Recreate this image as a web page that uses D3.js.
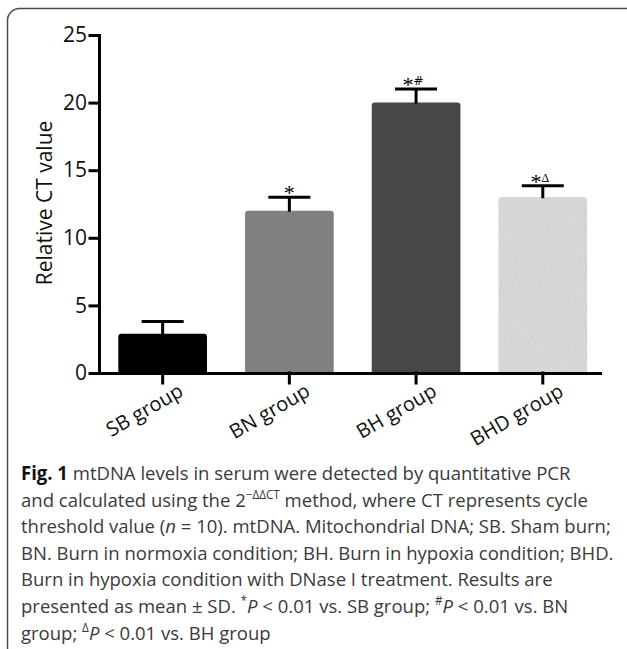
<!DOCTYPE html>
<html>
<head>
<meta charset="utf-8">
<script src="https://cdn.jsdelivr.net/npm/d3@7"></script>
<style>
  body { margin: 0; background: #fff; }
  svg { display: block; }
  text { font-family: "Open Sans", sans-serif; }
</style>
</head>
<body>
<svg width="627" height="649"></svg>
<script>
// chart values
var groups = ["SB group", "BN group", "BH group", "BHD group"];
var means = [2.9, 12.0, 20.0, 13.0];
var sds = [0.9, 1.0, 1.0, 0.85];
var starMarks = ["", "*", "*", "*"];
var extraMarks = ["", "", "#", "\u0394"];
var yTicks = [0, 5, 10, 15, 20, 25];

var barColors = ["#000000", "#808080", "#474747", "#d6d6d6"];

var svg = d3.select("svg");

var defs = svg.append("defs");
var f = defs.append("filter").attr("id", "grain")
    .attr("x", 0).attr("y", 0).attr("width", 1).attr("height", 1);
f.append("feTurbulence").attr("type", "fractalNoise").attr("baseFrequency", 0.9)
    .attr("numOctaves", 2).attr("seed", 3).attr("result", "n");
f.append("feColorMatrix").attr("in", "n").attr("type", "matrix")
    .attr("values", "0.33 0.33 0.33 0 0  0.33 0.33 0.33 0 0  0.33 0.33 0.33 0 0  0 0 0 0 1")
    .attr("result", "g");
f.append("feComposite").attr("in", "SourceGraphic").attr("in2", "g").attr("operator", "arithmetic")
    .attr("k1", 0).attr("k2", 1).attr("k3", 0.3).attr("k4", -0.15).attr("result", "m");
f.append("feComposite").attr("in", "m").attr("in2", "SourceGraphic").attr("operator", "in");

// frame (only top and left edges visible)
svg.append("rect")
    .attr("x", 7.5).attr("y", 8.5)
    .attr("width", 800).attr("height", 800)
    .attr("rx", 12)
    .attr("fill", "none")
    .attr("stroke", "#4a4a4a")
    .attr("stroke-width", 1.5);

var y = d3.scaleLinear().domain([0, 25]).range([373, 35]);
var x = d3.scaleBand().domain(groups).range([99, 600])
    .paddingInner(0.3).paddingOuter(0.127).align(0.6);

var g = svg.append("g");

// bars
g.selectAll(".bar")
    .data(groups)
    .enter().append("path")
    .attr("class", "bar")
    .attr("fill", function(d, i) { return barColors[i]; })
    .attr("filter", function(d, i) { return i == 3 ? "url(#grain)" : null; })
    .attr("d", function(d, i) {
        var x0 = x(d), x1 = x(d) + x.bandwidth(), yt = y(means[i]), yb = y(0), r = 3;
        return "M" + x0 + "," + yb + "V" + (yt + r) + "Q" + x0 + "," + yt + " " + (x0 + r) + "," + yt +
            "H" + (x1 - r) + "Q" + x1 + "," + yt + " " + x1 + "," + (yt + r) + "V" + yb + "Z";
    });

// error bars
var cap = 21;
groups.forEach(function(d, i) {
    var cx = x(d) + x.bandwidth() / 2;
    g.append("line")
        .attr("x1", cx).attr("x2", cx)
        .attr("y1", y(means[i]) + 1).attr("y2", y(means[i] + sds[i]))
        .attr("stroke", "#000").attr("stroke-width", 3);
    g.append("line")
        .attr("x1", cx - cap).attr("x2", cx + cap)
        .attr("y1", y(means[i] + sds[i])).attr("y2", y(means[i] + sds[i]))
        .attr("stroke", "#000").attr("stroke-width", 3);

    if (starMarks[i]) {
        var t = g.append("text")
            .attr("x", cx + (extraMarks[i] ? -3 : 0))
            .attr("y", y(means[i] + sds[i]) + 3)
            .attr("text-anchor", "middle")
            .style("font-family", "'Liberation Serif', serif");
        t.append("tspan").attr("font-size", 22).text(starMarks[i]);
        if (extraMarks[i]) {
            t.append("tspan").attr("font-size", 12).attr("dy", -7)
                .style("font-family", extraMarks[i] == "#" ? "'DejaVu Sans', sans-serif" : "'Liberation Serif', serif")
                .text(extraMarks[i]);
        }
    }
});

// axes
var yAxis = d3.axisLeft(y).tickValues(yTicks).tickSize(9).tickPadding(3).tickSizeOuter(0);
var xAxis = d3.axisBottom(x).tickSize(10).tickSizeOuter(0).tickFormat("");

var gy = g.append("g").attr("transform", "translate(99,0)").call(yAxis);
gy.selectAll("text").attr("font-size", 21).attr("fill", "#111").style("font-family", "'Open Sans', sans-serif");

var gx = g.append("g").attr("transform", "translate(0,373)").call(xAxis);

g.selectAll(".domain, .tick line")
    .attr("stroke", "#000").attr("stroke-width", 3).attr("stroke-linecap", "square");

// x labels
g.selectAll(".xlab")
    .data(groups)
    .enter().append("text")
    .attr("class", "xlab")
    .attr("text-anchor", "end")
    .attr("font-size", 20)
    .attr("fill", "#111")
    .attr("transform", function(d) {
        return "translate(" + (x(d) + x.bandwidth() / 2 + 22) + ",395) rotate(-30)";
    })
    .text(function(d) { return d; });

// y label
svg.append("text")
    .attr("transform", "translate(52,203) rotate(-90)")
    .attr("text-anchor", "middle")
    .attr("font-size", 21)
    .attr("fill", "#111")
    .text("Relative CT value");

// caption
var cap0 = 480, lh = 26.6, cx0 = 21;
var lines = [
    [["b", "Fig. 1"], ["", " mtDNA levels in serum were detected by quantitative PCR"]],
    [["", "and calculated using the 2"], ["sup", "\u2212\u0394\u0394CT"], ["", " method, where CT represents cycle"]],
    [["", "threshold value ("], ["i", "n"], ["", " = 10). mtDNA. Mitochondrial DNA; SB. Sham burn;"]],
    [["", "BN. Burn in normoxia condition; BH. Burn in hypoxia condition; BHD."]],
    [["", "Burn in hypoxia condition with DNase I treatment. Results are"]],
    [["", "presented as mean \u00b1 SD. "], ["sup", "*"], ["i", "P"], ["", " < 0.01 vs. SB group; "], ["sup", "#"], ["i", "P"], ["", " < 0.01 vs. BN"]],
    [["", "group; "], ["sup", "\u0394"], ["i", "P"], ["", " < 0.01 vs. BH group"]]
];
// widest line should reach about x = 614
var widest = 614;

var captionG = svg.append("g").attr("fill", "#3a3a3a").attr("font-size", 19);
var texts = [];
lines.forEach(function(parts, li) {
    var t = captionG.append("text")
        .attr("x", 0)
        .attr("y", cap0 + li * lh);
    var raised = false;
    parts.forEach(function(p) {
        var s = t.append("tspan").text(p[1]);
        if (p[0] == "b") s.attr("font-weight", "bold").attr("fill", "#111");
        if (p[0] == "i") s.attr("font-style", "italic");
        if (p[0] == "sup") {
            s.attr("font-size", 12).attr("dy", -8);
            raised = true;
        } else if (raised) {
            s.attr("dy", 8);
            raised = false;
        }
    });
    texts.push(t);
});
var maxW = d3.max(texts, function(t) { return t.node().getComputedTextLength(); });
var sx = (widest - cx0) / maxW;
captionG.attr("transform", "translate(" + cx0 + ",0) scale(" + sx + ",1)");
</script>
</body>
</html>
